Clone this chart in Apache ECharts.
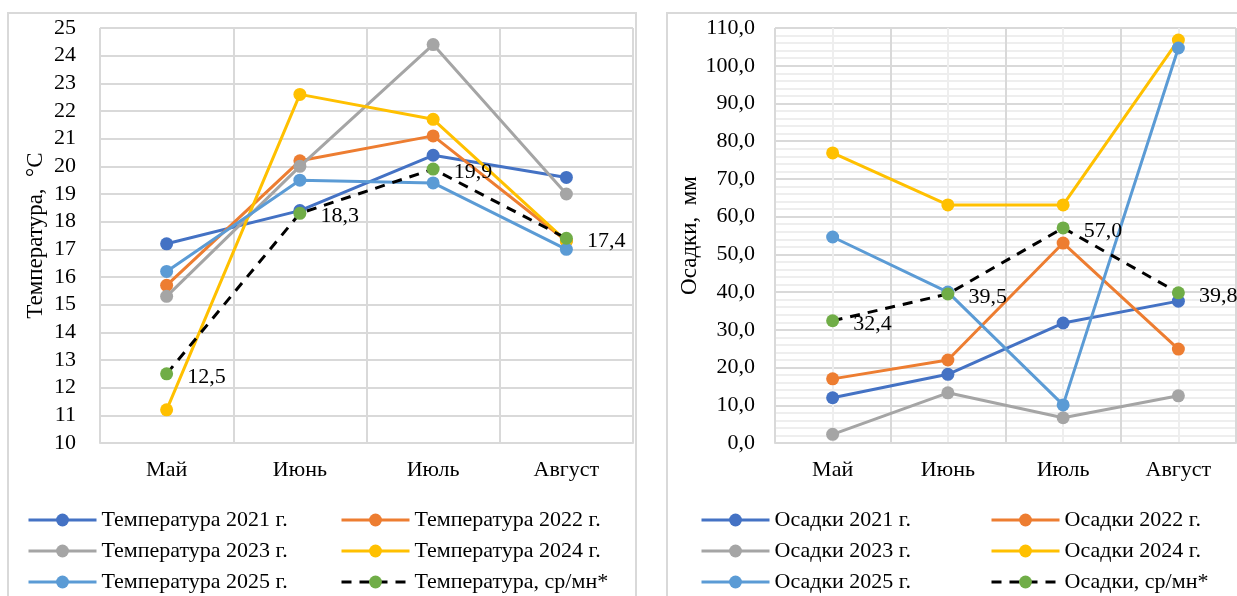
<!DOCTYPE html>
<html><head><meta charset="utf-8">
<script src="https://cdn.jsdelivr.net/npm/echarts@6/dist/echarts.min.js"></script>
<style>html,body{margin:0;padding:0;background:#fff}#c{width:1237px;height:596px}</style>
</head><body><div id="c"></div>
<script>
const months = ['Май', 'Июнь', 'Июль', 'Август'];
const tNames = ['Температура 2021 г.', 'Температура 2022 г.', 'Температура 2023 г.', 'Температура 2024 г.', 'Температура 2025 г.', 'Температура, ср/мн*'];
const t2021 = [17.2, 18.4, 20.4, 19.6];
const t2022 = [15.7, 20.2, 21.1, 17.3];
const t2023 = [15.3, 20.0, 24.4, 19.0];
const t2024 = [11.2, 22.6, 21.7, 17.3];
const t2025 = [16.2, 19.5, 19.4, 17.0];
const tAvg  = [12.5, 18.3, 19.9, 17.4];
const pNames = ['Осадки 2021 г.', 'Осадки 2022 г.', 'Осадки 2023 г.', 'Осадки 2024 г.', 'Осадки 2025 г.', 'Осадки, ср/мн*'];
const p2021 = [12.0, 18.2, 31.8, 37.6];
const p2022 = [17.0, 22.0, 53.0, 24.9];
const p2023 = [2.3, 13.3, 6.7, 12.5];
const p2024 = [76.9, 63.1, 63.1, 106.8];
const p2025 = [54.6, 40.0, 10.1, 104.7];
const pAvg  = [32.4, 39.5, 57.0, 39.8];
const tTicks = {min: 10, max: 25, interval: 1};
const pTicks = {min: 0, max: 110, interval: 10};

const colors = ['#4472C4', '#ED7D31', '#A5A5A5', '#FFC000', '#5B9BD5'];
const FONT = 'Liberation Serif';
const FS = 22;
const comma = v => Number(v).toFixed(1).replace('.', ',');

function yearSeries(name, data, i, ax) {
  return {
    name, type: 'line', data, xAxisIndex: ax.x, yAxisIndex: ax.y,
    symbol: 'circle', symbolSize: 13,
    lineStyle: {color: colors[i], width: 3},
    itemStyle: {color: colors[i]},
    emphasis: {disabled: true}, z: 2 + i
  };
}
function avgSeries(name, data, ax) {
  return {
    name, type: 'line', data, xAxisIndex: ax.x, yAxisIndex: ax.y,
    symbol: 'circle', symbolSize: 13,
    lineStyle: {color: '#000', width: 3, type: [10, 8]},
    itemStyle: {color: '#70AD47'},
    label: {show: true, position: 'right', distance: 14, offset: [0, 3],
      formatter: p => comma(p.value), fontFamily: FONT, fontSize: FS, color: '#000'},
    emphasis: {disabled: true}, z: 10
  };
}
const gridCol = '#d9d9d9';
function catAxis(gi) {
  return {type: 'category', gridIndex: gi, data: months, boundaryGap: true, position: 'bottom',
    axisLine: {lineStyle: {color: gridCol, width: 2}}, axisTick: {show: false},
    axisLabel: {fontFamily: FONT, fontSize: FS, color: '#000', margin: 16},
    splitLine: {show: true, lineStyle: {color: gridCol, width: 2}}};
}
const L = {x: 1, y: 0}, R = {x: 3, y: 1};

function legend(names, left, top) {
  return {orient: 'vertical', left, top, width: 300, height: 200, data: names,
    itemWidth: 68, itemHeight: 16, itemGap: 9,
    textStyle: {fontFamily: FONT, fontSize: FS, color: '#000', lineHeight: 20},
    lineStyle: {width: 3},
    padding: 0, selectedMode: false};
}

const option = {
  animation: false,
  backgroundColor: '#fff',
  graphic: [
    {type: 'rect', shape: {x: 8, y: 13, width: 628, height: 620}, style: {fill: 'none', stroke: gridCol, lineWidth: 2}, silent: true},
    {type: 'rect', shape: {x: 667, y: 13, width: 620, height: 620}, style: {fill: 'none', stroke: gridCol, lineWidth: 2}, silent: true}
  ],
  grid: [
    {left: 100, top: 28, width: 533, height: 415, outerBoundsMode: 'none'},
    {left: 775, top: 28, width: 461, height: 415, outerBoundsMode: 'none'}
  ],
  xAxis: [
    {type: 'value', gridIndex: 0, min: 0, max: 8, interval: 1, show: false, position: 'top'},
    catAxis(0),
    {type: 'value', gridIndex: 1, min: 0, max: 8, interval: 1, show: true, position: 'top',
      axisLine: {show: false}, axisTick: {show: false}, axisLabel: {show: false},
      splitLine: {show: true, lineStyle: {color: '#eeeeee', width: 2}}},
    catAxis(1)
  ],
  yAxis: [
    {type: 'value', gridIndex: 0, min: tTicks.min, max: tTicks.max, interval: tTicks.interval,
      name: 'Температура,  °С', nameLocation: 'middle', nameGap: 53,
      nameTextStyle: {fontFamily: FONT, fontSize: 23, color: '#000'},
      axisLine: {show: false}, axisTick: {show: false},
      axisLabel: {fontFamily: FONT, fontSize: FS, color: '#000', margin: 24},
      splitLine: {lineStyle: {color: gridCol, width: 2}}},
    {type: 'value', gridIndex: 1, min: pTicks.min, max: pTicks.max, interval: pTicks.interval,
      name: 'Осадки,  мм', nameLocation: 'middle', nameGap: 72,
      nameTextStyle: {fontFamily: FONT, fontSize: 23, color: '#000'},
      axisLine: {show: false}, axisTick: {show: false},
      axisLabel: {fontFamily: FONT, fontSize: FS, color: '#000', margin: 20, formatter: v => comma(v)},
      splitLine: {lineStyle: {color: gridCol, width: 2}},
      minorTick: {show: false, splitNumber: 5},
      minorSplitLine: {show: true, lineStyle: {color: '#eeeeee', width: 2}}}
  ],
  legend: [
    legend([tNames[0], tNames[2], tNames[4]], 27, 509),
    legend([tNames[1], tNames[3], tNames[5]], 340, 509),
    legend([pNames[0], pNames[2], pNames[4]], 700, 509),
    legend([pNames[1], pNames[3], pNames[5]], 990, 509)
  ],
  series: [
    yearSeries(tNames[0], t2021, 0, L),
    yearSeries(tNames[1], t2022, 1, L),
    yearSeries(tNames[2], t2023, 2, L),
    yearSeries(tNames[3], t2024, 3, L),
    yearSeries(tNames[4], t2025, 4, L),
    avgSeries(tNames[5], tAvg, L),
    yearSeries(pNames[0], p2021, 0, R),
    yearSeries(pNames[1], p2022, 1, R),
    yearSeries(pNames[2], p2023, 2, R),
    yearSeries(pNames[3], p2024, 3, R),
    yearSeries(pNames[4], p2025, 4, R),
    avgSeries(pNames[5], pAvg, R)
  ]
};
const chart = echarts.init(document.getElementById('c'), null, {renderer: 'canvas'});
chart.setOption(option);
</script></body></html>
